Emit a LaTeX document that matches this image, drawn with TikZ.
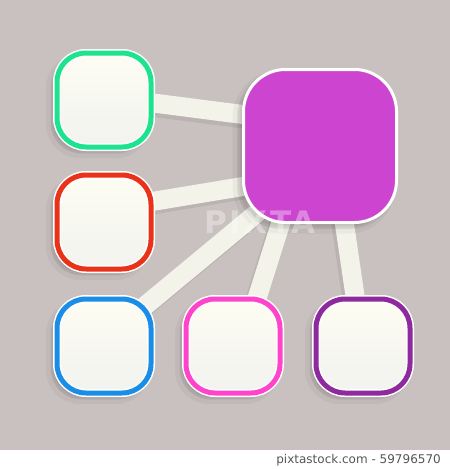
\documentclass[tikz,border=0pt]{standalone}
\usepackage{fontspec}
\setmainfont{DejaVu Sans}
\newfontfamily\wmfont[LetterSpace=8]{DejaVu Sans}
\definecolor{bgc}{HTML}{C9C1C0}
\definecolor{creamtop}{HTML}{FDFDF3}
\definecolor{creambot}{HTML}{F2F2EF}
\definecolor{stripc}{HTML}{F3F3EA}
\definecolor{cgreen}{HTML}{1DE38E}
\definecolor{cred}{HTML}{E8321A}
\definecolor{cblue}{HTML}{1A8EE6}
\definecolor{cpink}{HTML}{FF44CC}
\definecolor{cpurple}{HTML}{8E2A9E}
\definecolor{cmag}{HTML}{CC44D0}
\definecolor{credit}{HTML}{555555}
\pgfdeclarelayer{bglayer}
\pgfdeclarelayer{connlayer}
\pgfsetlayers{bglayer,connlayer,main}
\begin{document}
\begin{tikzpicture}[x=1pt,y=-1pt,
  softshadow/.style={
    preaction={fill=black, fill opacity=0.04, draw=black, draw opacity=0.04, line width=10pt, transform canvas={shift={(-6pt,-6pt)}}},
    preaction={fill=black, fill opacity=0.05, draw=black, draw opacity=0.05, line width=5pt, transform canvas={shift={(-4pt,-4pt)}}},
    preaction={fill=black, fill opacity=0.08, transform canvas={shift={(-2pt,-2pt)}}}},
  box/.style={rectangle, minimum size=94pt, inner sep=0pt, rounded corners=29pt,
    softshadow,
    draw=white, line width=1.5pt, double=#1, double distance=5pt,
    top color=creamtop, bottom color=creambot},
  bigbox/.style={rectangle, minimum size=153pt, inner sep=0pt, rounded corners=42pt,
    softshadow,
    draw=white, line width=3pt, fill=cmag},
  conn/.style={line width=19pt, draw=stripc},
  connshadow/.style={line width=19pt, draw=black, draw opacity=0.07, transform canvas={shift={(-3pt,-4pt)}}}
]
\useasboundingbox (0,0) rectangle (450,469);
\begin{pgfonlayer}{bglayer}
  \fill[bgc] (0,0) rectangle (450,450);
  \fill[white] (0,450) rectangle (450,469);
\end{pgfonlayer}

\node[bigbox] (big) at (320,146) {};
\node[box=cgreen] (green) at (104,100) {};
\node[box=cred] (red) at (104,222) {};
\node[box=cblue] (blue) at (104,346) {};
\node[box=cpink] (pink) at (233,346) {};
\node[box=cpurple] (purple) at (363,346) {};

\begin{pgfonlayer}{connlayer}
  \draw[connshadow] ([shift={(26,0)}]green.center) -- ([shift={(-50,-28)}]big.center);
  \draw[conn] ([shift={(26,0)}]green.center) -- ([shift={(-50,-28)}]big.center);
  \draw[connshadow] ([shift={(27,-17)}]red.center) -- ([shift={(-50,36)}]big.center);
  \draw[conn] ([shift={(27,-17)}]red.center) -- ([shift={(-50,36)}]big.center);
  \draw[connshadow] ([shift={(36,-36)}]blue.center) -- ([shift={(-45,52)}]big.center);
  \draw[conn] ([shift={(36,-36)}]blue.center) -- ([shift={(-45,52)}]big.center);
  \draw[connshadow] ([shift={(14,-16)}]pink.center) -- ([shift={(-32,54)}]big.center);
  \draw[conn] ([shift={(14,-16)}]pink.center) -- ([shift={(-32,54)}]big.center);
  \draw[connshadow] ([shift={(-3,-16)}]purple.center) -- ([shift={(21,54)}]big.center);
  \draw[conn] ([shift={(-3,-16)}]purple.center) -- ([shift={(21,54)}]big.center);
\end{pgfonlayer}

\node[font=\wmfont\bfseries\fontsize{31}{31}\selectfont, text=white, text opacity=0.35, inner sep=0pt] (wm) at (260,222) {PIXTA};
\node[anchor=east, font=\fontsize{12}{12}\selectfont, text=credit, inner sep=0pt] (credit) at (441,460) {pixtastock.com - 59796570};
\end{tikzpicture}
\end{document}
